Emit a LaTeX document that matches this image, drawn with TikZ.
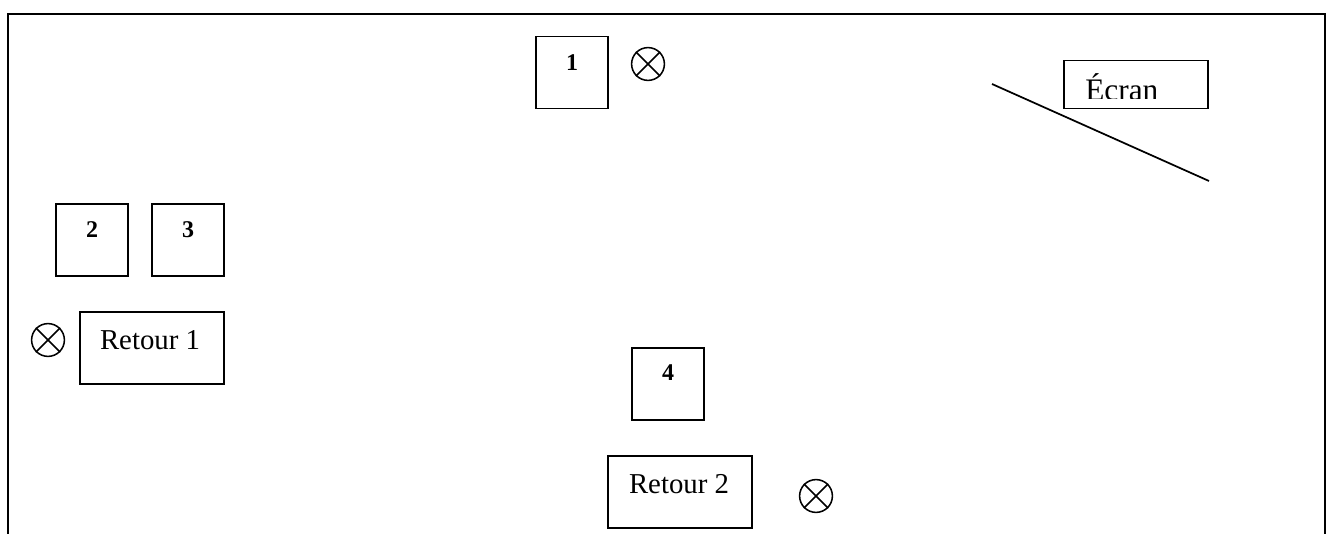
\documentclass[tikz,border=0pt]{standalone}
\usepackage{fontspec}
\setmainfont{Liberation Serif}
\tikzset{
  px/.style={x=0.75pt,y=-0.75pt},
  frameline/.style={draw=black,line width=1.5pt},
  boxline/.style={draw=black,line width=1.3pt},
  numlabel/.style={font=\fontsize{18}{20}\bfseries\selectfont,inner sep=0pt,text=black},
  retlabel/.style={font=\fontsize{21.6}{24}\selectfont,inner sep=0pt,text=black},
  ecrlabel/.style={font=\fontsize{23.5}{26}\selectfont,inner sep=0pt,text=black},
  lampline/.style={draw=black,line width=1.15pt},
}
\newcommand{\lamp}[3]{%
  \node[circle,minimum size=24.6pt,inner sep=0pt,lampline] (#1) at (#2,#3) {};
  \draw[lampline] (#1.45) -- (#1.225);
  \draw[lampline] (#1.135) -- (#1.315);
}
\begin{document}
\begin{tikzpicture}[px]
\useasboundingbox (0,0) rectangle (1333,534);
\fill[white] (0,0) rectangle (1333,534);
\coordinate (fbl) at (8,534);
\coordinate (ftl) at (8,14);
\coordinate (ftr) at (1325,14);
\coordinate (fbr) at (1325,534);
\draw[frameline] (fbl) -- (ftl) -- (ftr) -- (fbr);
\node[boxline,minimum width=54pt,minimum height=54pt,inner sep=0pt] (b1) at (572,72.5) {};
\node[numlabel] at (572,62.5) {1};
\node[boxline,minimum width=54pt,minimum height=54pt,inner sep=0pt] (b2) at (92,240) {};
\node[numlabel] at (92,230) {2};
\node[boxline,minimum width=54pt,minimum height=54pt,inner sep=0pt] (b3) at (188,240) {};
\node[numlabel] at (188,230) {3};
\node[boxline,minimum width=54pt,minimum height=54pt,inner sep=0pt] (b4) at (668,384) {};
\node[numlabel] at (668,373) {4};
\node[boxline,minimum width=108pt,minimum height=54pt,inner sep=0pt] (r1) at (152,348) {};
\node[retlabel] at (150,340) {Retour 1};
\node[boxline,minimum width=108pt,minimum height=54pt,inner sep=0pt] (r2) at (680,492) {};
\node[retlabel] at (679,484) {Retour 2};
\lamp{l1}{648}{64}
\lamp{l2}{48}{340}
\lamp{l3}{816}{496}
\node[boxline,minimum width=108pt,minimum height=36pt,inner sep=0pt] (ec) at (1136,84.5) {};
\begin{scope}
\clip (1066,62) rectangle (1206,99);
\node[ecrlabel,anchor=base west] (ect) at (1085,100.5) {Écran};
\end{scope}
\coordinate (s1) at (992,84);
\coordinate (s2) at (1209,181);
\draw[boxline] (s1) -- (s2);
\end{tikzpicture}
\end{document}
